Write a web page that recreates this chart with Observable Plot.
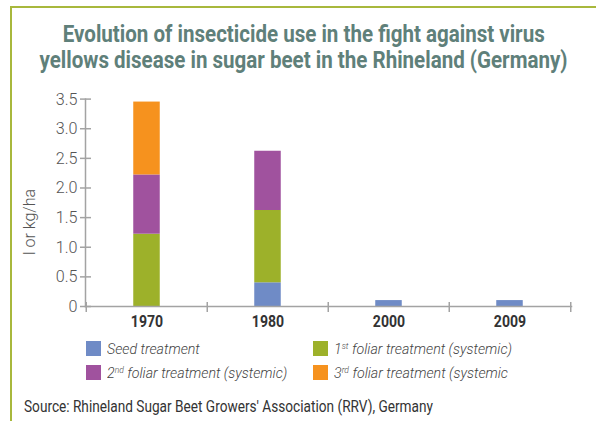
<!DOCTYPE html>
<html>
<head>
<meta charset="utf-8">
<script src="https://cdn.jsdelivr.net/npm/d3@7"></script>
<script src="https://cdn.jsdelivr.net/npm/@observablehq/plot@0.6"></script>
<style>
  html, body { margin: 0; padding: 0; background: #fff; }
  body { width: 596px; height: 421px; position: relative; overflow: hidden;
         font-family: Roboto, "Liberation Sans", sans-serif; }
  .frame-top { position: absolute; left: 10px; top: 6px; width: 586px; height: 2px; background: #a8b83c; }
  .frame-left { position: absolute; left: 10px; top: 6px; width: 2px; height: 415px; background: #a8b83c; }
  .tline { position: absolute; left: 0; width: 608px; text-align: center; white-space: nowrap;
           font-size: 23px; font-weight: bold; line-height: 27px; color: #5f807a; }
  .tline span { display: inline-block; transform-origin: 50% 50%; }
  #chart { position: absolute; left: 0; top: 80px; }
  .ylabel { position: absolute; left: 30px; top: 222px; transform: translate(-50%, -50%) rotate(-90deg);
            font-size: 16px; font-weight: 300; color: #555; white-space: nowrap; line-height: 16px; }
  .legend { position: absolute; left: 0; top: 0; font-size: 15px; font-style: italic; color: #444; font-weight: 300; }
  .item { position: absolute; white-space: nowrap; display: flex; align-items: center; }
  .sw { width: 15px; height: 15px; margin-right: 6px; flex: none; }
  .lt { display: inline-block; transform-origin: 0 50%; }
  .item sup { font-size: 9px; vertical-align: 5px; line-height: 0; }
  .source { position: absolute; left: 24px; top: 398px; font-size: 17px; line-height: 17px; color: #333;
            white-space: nowrap; transform-origin: 0 50%; font-weight: 400; }
</style>
</head>
<body>
<div class="frame-top"></div>
<div class="frame-left"></div>
<div class="tline" style="top:21px"><span id="t1">Evolution of insecticide use in the fight against virus</span></div>
<div class="tline" style="top:47px"><span id="t2">yellows disease in sugar beet in the Rhineland (Germany)</span></div>
<div id="chart"></div>
<div class="ylabel">l or kg/ha</div>
<div class="legend" id="legend"></div>
<div class="source" id="source">Source: Rhineland Sugar Beet Growers' Association (RRV), Germany</div>
<script>
// ---- data ----
const years = ["1970", "1980", "2000", "2009"];
const seriesKeys = ["seed", "foliar1", "foliar2", "foliar3"];
const seedTreatment = [0, 0.4, 0.1, 0.1];
const foliar1 = [1.22, 1.22, 0, 0];
const foliar2 = [1.0, 1.0, 0, 0];
const foliar3 = [1.23, 0, 0, 0];
const seriesColors = ["#6f8bc6", "#9db12a", "#a0529e", "#f6921e"];
const yTicks = [0, 0.5, 1.0, 1.5, 2.0, 2.5, 3.0, 3.5];
const legendLabels = [
  ["Seed treatment"],
  ["1", "st", " foliar treatment (systemic)"],
  ["2", "nd", " foliar treatment (systemic)"],
  ["3", "rd", " foliar treatment (systemic"]
];

const seriesValues = [seedTreatment, foliar1, foliar2, foliar3];
const rows = [];
years.forEach((yr, i) => {
  seriesKeys.forEach((k, j) => rows.push({year: yr, key: k, value: seriesValues[j][i]}));
});

const W = 596, H = 260;
const mL = 85, mR = 25, mT = 18.6, mB = 34;
const step = (W - mL - mR) / years.length;
const barW = 27;
const inset = (step - barW) / 2;
const axisGrey = "#a3a3a3";

const plot = Plot.plot({
  width: W, height: H,
  marginLeft: mL, marginRight: mR, marginTop: mT, marginBottom: mB,
  style: {fontFamily: "Roboto, 'Liberation Sans', sans-serif", background: "transparent", overflow: "visible"},
  x: {type: "band", domain: years, padding: 0},
  y: {domain: [0, 3.5]},
  color: {domain: seriesKeys, range: seriesColors},
  marks: [
    Plot.barY(rows, {x: "year", y: "value", fill: "key", insetLeft: inset, insetRight: inset}),
    Plot.frame({anchor: "bottom", stroke: axisGrey, strokeWidth: 1.5}),
    Plot.frame({anchor: "left", stroke: axisGrey, strokeWidth: 1.5}),
    Plot.axisY({ticks: yTicks, tickSize: 11, dx: 6, text: null, label: null, stroke: axisGrey, strokeWidth: 1.5}),
    Plot.axisY({ticks: yTicks, tickSize: 0, tickPadding: 8, label: null,
      tickFormat: d => d === 0 ? "0" : d.toFixed(1),
      fontSize: 17, fill: "#555", fontWeight: 300}),
    Plot.axisX({ticks: years, tickSize: 10, dx: -step / 2, dy: -4, text: null, label: null, stroke: axisGrey, strokeWidth: 1.5}),
    Plot.axisX({ticks: years.slice(-1), tickSize: 10, dx: step / 2, dy: -4, text: null, label: null, stroke: axisGrey, strokeWidth: 1.5}),
    Plot.axisX({ticks: years, tickSize: 0, tickPadding: 9, label: null, fontSize: 16, fontWeight: "bold", fill: "#333"})
  ]
});
document.getElementById("chart").appendChild(plot);

// condense SVG texts horizontally around their anchor
function condense(sel, sx, anchor) {
  plot.querySelectorAll(sel).forEach(t => {
    const b = t.getBBox();
    const cx = anchor === "end" ? b.x + b.width : b.x + b.width / 2;
    const tr = t.getAttribute("transform") || "";
    t.setAttribute("transform", `${tr} translate(${cx},0) scale(${sx},1) translate(${-cx},0)`);
  });
}
condense('[aria-label="x-axis tick label"] text', 0.88, "middle");
condense('[aria-label="y-axis tick label"] text', 0.95, "end");

// legend
const legend = document.getElementById("legend");
const pos = [[86, 341], [313, 341], [86, 365], [313, 365]];
const spans = [];
seriesKeys.forEach((k, si) => {
  const it = document.createElement("div");
  it.className = "item";
  it.style.left = pos[si][0] + "px";
  it.style.top = pos[si][1] + "px";
  it.style.height = "15px";
  const sw = document.createElement("span");
  sw.className = "sw";
  sw.style.background = seriesColors[si];
  it.appendChild(sw);
  const tx = document.createElement("span");
  tx.className = "lt";
  const L = legendLabels[si];
  tx.append(L[0]);
  if (L.length === 3) {
    const s = document.createElement("sup"); s.textContent = L[1]; tx.appendChild(s);
    tx.append(L[2]);
  }
  it.appendChild(tx);
  legend.appendChild(it);
  spans.push(tx);
});
// horizontal condensing to mimic the condensed typeface
const lsx = 178 / spans[1].getBoundingClientRect().width;
spans.forEach(s => s.style.transform = `scaleX(${lsx})`);
const t2 = document.getElementById("t2"), t1 = document.getElementById("t1");
const tsx = 528 / t2.getBoundingClientRect().width;
t1.style.transform = t2.style.transform = `scaleX(${tsx})`;
const src = document.getElementById("source");
src.style.transform = `scaleX(${409 / src.getBoundingClientRect().width})`;
</script>
</body>
</html>
